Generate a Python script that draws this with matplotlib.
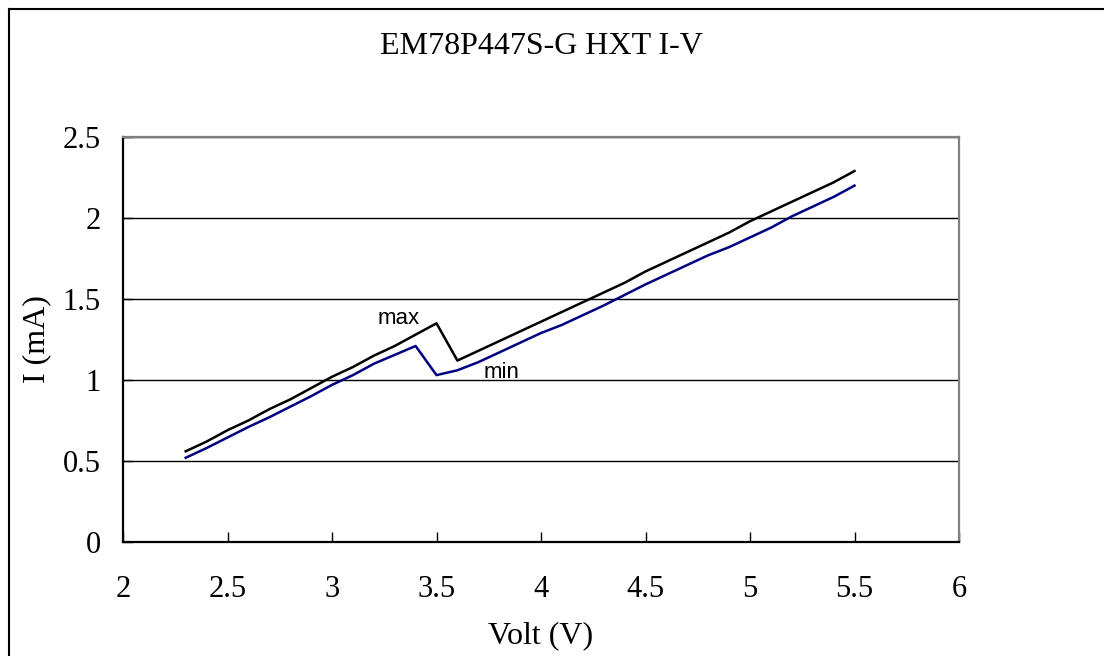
import matplotlib.pyplot as plt
from matplotlib.lines import Line2D

# Supply voltage (V), sampled every 0.1 V
volt = [2.3, 2.4, 2.5, 2.6, 2.7, 2.8, 2.9, 3.0, 3.1, 3.2, 3.3, 3.4, 3.5,
        3.6, 3.7, 3.8, 3.9, 4.0, 4.1, 4.2, 4.3, 4.4, 4.5, 4.6, 4.7, 4.8,
        4.9, 5.0, 5.1, 5.2, 5.3, 5.4, 5.5]

# Current (mA)
i_max = [0.56, 0.62, 0.69, 0.75, 0.82, 0.88, 0.95, 1.02, 1.08, 1.15, 1.21,
         1.28, 1.35, 1.12, 1.18, 1.24, 1.30, 1.36, 1.42, 1.48, 1.54, 1.60,
         1.67, 1.73, 1.79, 1.85, 1.91, 1.98, 2.04, 2.10, 2.16, 2.22, 2.29]
i_min = [0.52, 0.58, 0.645, 0.71, 0.77, 0.835, 0.90, 0.97, 1.03, 1.10,
         1.155, 1.21, 1.03, 1.06, 1.11, 1.17, 1.23, 1.29, 1.34, 1.40, 1.46,
         1.525, 1.59, 1.65, 1.71, 1.77, 1.82, 1.88, 1.94, 2.01, 2.07, 2.13,
         2.20]

xticks = [2, 2.5, 3, 3.5, 4, 4.5, 5, 5.5, 6]
yticks = [0, 0.5, 1, 1.5, 2, 2.5]

serif = "Liberation Serif"
sans = "Liberation Sans"

fig = plt.figure(figsize=(11.04, 6.56), dpi=100)
ax = fig.add_axes([123 / 1104, 1 - 542 / 656, 836 / 1104, 405 / 656])

ax.plot(volt, i_max, color="black", lw=1.8)
ax.plot(volt, i_min, color="#000080", lw=1.8)

ax.set_xlim(2, 6)
ax.set_ylim(0, 2.5)
ax.set_xticks(xticks)
ax.set_yticks(yticks)
ax.set_xticklabels([f"{t:g}" for t in xticks], fontfamily=serif, fontsize=22)
ax.set_yticklabels([f"{t:g}" for t in yticks], fontfamily=serif, fontsize=22)
ax.tick_params(axis="x", direction="in", length=7, width=1, pad=24)
ax.tick_params(axis="y", direction="in", length=7, width=1, pad=16)

ax.grid(axis="y", color="black", lw=1)
ax.set_axisbelow(True)

for side in ["left", "bottom"]:
    ax.spines[side].set_color("black")
    ax.spines[side].set_linewidth(1.6)
for side in ["top", "right"]:
    ax.spines[side].set_color("#808080")
    ax.spines[side].set_linewidth(1.6)

ax.set_xlabel("Volt (V)", fontfamily=serif, fontsize=23, labelpad=12)
ax.set_ylabel("I (mA)", fontfamily=serif, fontsize=23, labelpad=8)
fig.text(541 / 1104, 1 - 47 / 656, "EM78P447S-G HXT I-V", fontfamily=serif,
         fontsize=23, ha="center", va="center")

ax.text(3.32, 1.345, "max", fontfamily=sans, fontsize=16, ha="center",
        va="baseline")
ax.text(3.81, 1.01, "min", fontfamily=sans, fontsize=16, ha="center",
        va="baseline")

# outer chart frame (only left and top edges fall inside the image)
fig.add_artist(Line2D([8.5 / 1104, 8.5 / 1104], [0, 1 - 9 / 656],
                      transform=fig.transFigure, color="black", lw=1.5))
fig.add_artist(Line2D([8.5 / 1104, 1], [1 - 9 / 656, 1 - 9 / 656],
                      transform=fig.transFigure, color="black", lw=1.5))

fig.savefig("out.png", dpi=100)
